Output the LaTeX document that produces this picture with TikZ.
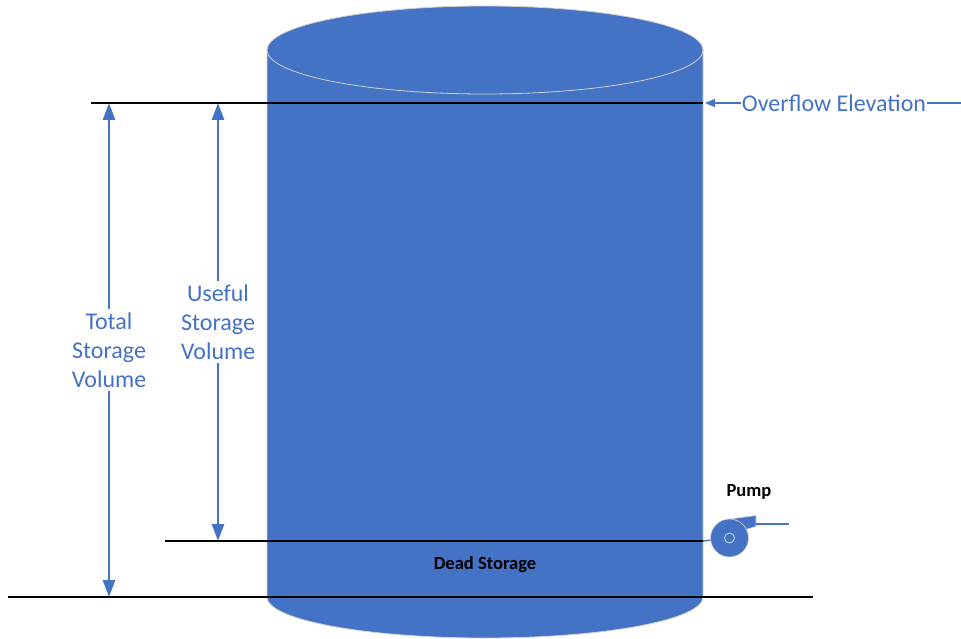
\documentclass[tikz,border=0pt]{standalone}
\usepackage{fontspec}
\setmainfont{Carlito}
\usetikzlibrary{arrows.meta}
\definecolor{tankblue}{HTML}{4472C4}
\begin{document}
\begin{tikzpicture}[x=1pt,y=-1pt,
  blk/.style={black,line width=1.5pt},
  dimarrow/.style={tankblue,line width=2.7pt,-{Triangle[width=12pt,length=17pt]}},
  thinblue/.style={tankblue,line width=1.5pt},
  lbl/.style={text=tankblue,font=\fontsize{24}{29}\selectfont,align=center,inner xsep=1pt,inner ysep=3pt},
  boldlbl/.style={font=\fontsize{18.5}{22}\selectfont\bfseries,inner sep=0pt},
  tankedge/.style={draw=gray!35,line width=0.8pt}]
\useasboundingbox (0,0) rectangle (961,639);
% tank body and top
\fill[tankblue,tankedge] (267,50) -- (267,597) arc[start angle=180,end angle=0,x radius=218,y radius=41] -- (703,50) -- cycle;
\filldraw[fill=tankblue,tankedge] (485,50) ellipse[x radius=218,y radius=44];
% level lines
\coordinate (ovL) at (91,103); \coordinate (ovR) at (703,103);
\draw[blk] (ovL) -- (ovR);
\coordinate (dsL) at (165,541); \coordinate (dsR) at (703,541);
\draw[blk] (dsL) -- (dsR);
\coordinate (btL) at (8,597); \coordinate (btR) at (813,597);
\draw[blk] (btL) -- (btR);
% total storage volume
\node[lbl] (total) at (109,350) {Total\\Storage\\Volume};
\coordinate (totTop) at (109,103); \coordinate (totBot) at (109,597);
\draw[dimarrow] (total.north) -- (totTop);
\draw[dimarrow] (total.south) -- (totBot);
% useful storage volume
\node[lbl] (useful) at (218,322) {Useful\\Storage\\Volume};
\coordinate (useTop) at (218,103); \coordinate (useBot) at (218,541);
\draw[dimarrow] (useful.north) -- (useTop);
\draw[dimarrow] (useful.south) -- (useBot);
% overflow elevation
\node[lbl,inner sep=1pt] (ovf) at (834,103) {Overflow Elevation};
\coordinate (ovArr) at (705,103); \coordinate (ovEnd) at (961,103);
\draw[thinblue,-{Triangle[width=8pt,length=10pt]}] (ovf.west) -- (ovArr);
\draw[thinblue] (ovf.east) -- (ovEnd);
% labels
\node[boldlbl] (dead) at (485,565) {Dead Storage};
\node[boldlbl] (pumplbl) at (749,492) {Pump};
% pump
\filldraw[fill=tankblue,draw=gray!30,line width=0.6pt] (729.5,519) -- (756,515.5) -- (756,526.5) -- (744,530) -- cycle;
\node[circle,minimum size=38pt,inner sep=0pt,fill=tankblue,draw=gray!30,line width=0.6pt] (pump) at (729.5,538) {};
\draw[white!75!tankblue,line width=0.8pt] (pump.center) circle[radius=5];
\draw[thinblue] (dsR) -- (pump);
\coordinate (pipeS) at (756,524); \coordinate (pipeE) at (789,524);
\draw[thinblue] (pipeS) -- (pipeE);
\end{tikzpicture}
\end{document}
